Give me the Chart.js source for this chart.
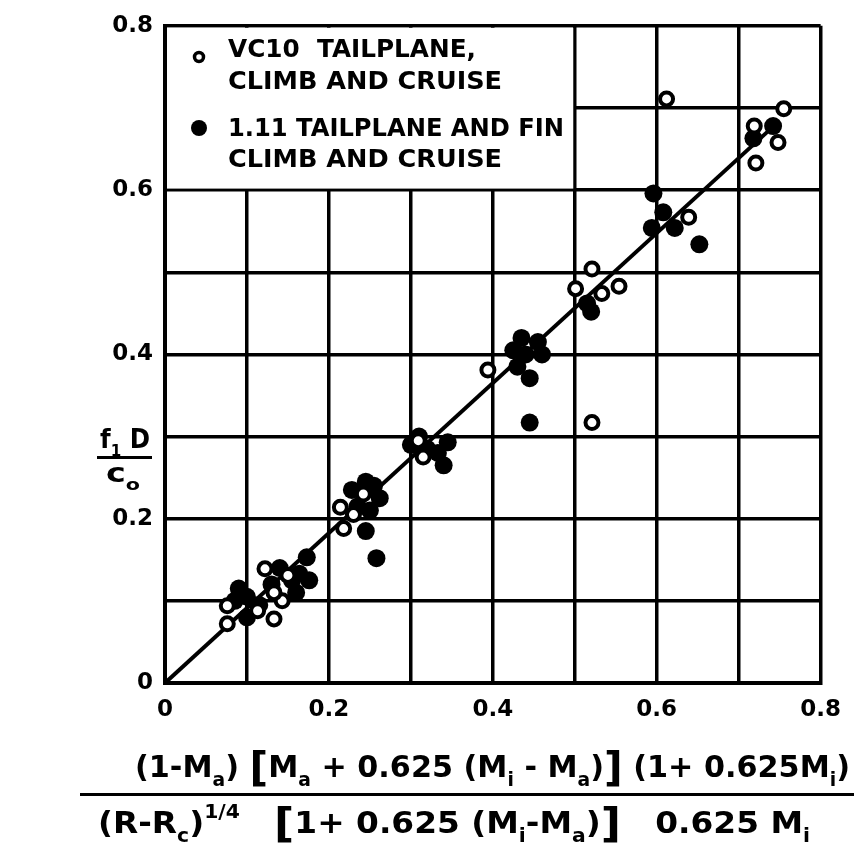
<!DOCTYPE html>
<html>
<head>
<meta charset="utf-8">
<script src="https://cdn.jsdelivr.net/npm/chart.js@4.4.0/dist/chart.umd.min.js"></script>
<style>
  html, body { margin: 0; padding: 0; background: #fff; }
  #wrap { width: 854px; height: 857px; }
</style>
</head>
<body>
<div id="wrap"><canvas id="chart" width="854" height="857"></canvas></div>
<script>
// VC10 tailplane, climb and cruise (open circles)
var vc10X = [0.076, 0.076, 0.122, 0.150, 0.143, 0.133, 0.113, 0.133, 0.214, 0.230, 0.218, 0.242, 0.309, 0.315,
             0.394, 0.521, 0.521, 0.501, 0.533, 0.554, 0.639, 0.612, 0.755, 0.719, 0.748, 0.721];
var vc10Y = [0.072, 0.094, 0.139, 0.131, 0.100, 0.078, 0.088, 0.110, 0.214, 0.205, 0.188, 0.230, 0.295, 0.275,
             0.381, 0.317, 0.504, 0.480, 0.474, 0.483, 0.567, 0.711, 0.699, 0.678, 0.658, 0.633];

// 1.11 tailplane and fin, climb and cruise (filled circles)
var finX = [0.090, 0.100, 0.100, 0.115, 0.085, 0.130, 0.140, 0.155, 0.160, 0.173, 0.176, 0.164,
            0.228, 0.245, 0.255, 0.262, 0.250, 0.245, 0.235, 0.258,
            0.300, 0.310, 0.320, 0.345, 0.340, 0.333,
            0.435, 0.455, 0.425, 0.440, 0.460, 0.430, 0.445, 0.445,
            0.515, 0.520, 0.596, 0.608, 0.594, 0.622, 0.652, 0.742, 0.718];
var finY = [0.115, 0.105, 0.080, 0.095, 0.100, 0.120, 0.140, 0.125, 0.110, 0.153, 0.125, 0.133,
            0.235, 0.245, 0.240, 0.225, 0.210, 0.185, 0.215, 0.152,
            0.290, 0.300, 0.285, 0.293, 0.265, 0.280,
            0.420, 0.415, 0.405, 0.400, 0.400, 0.385, 0.371, 0.317,
            0.462, 0.452, 0.596, 0.573, 0.554, 0.554, 0.534, 0.678, 0.663];

// faired line through the data
var fitX = [0, 0.745];
var fitY = [0, 0.68];

var legendLines = [
  ["VC10  TAILPLANE,", "CLIMB AND CRUISE"],
  ["1.11 TAILPLANE AND FIN", "CLIMB AND CRUISE"]
];

function pts(xs, ys) {
  return xs.map(function (x, i) { return { x: x, y: ys[i] }; });
}

var FONT = '"DejaVu Sans", sans-serif';

// draws text with subscripts/superscripts, squeezed to a target width
function drawRich(ctx, segs, x, y, targetW, size) {
  function fontFor(s) {
    var sz = s.s ? size * 0.62 : (s.big ? size * 1.35 : size);
    return 'bold ' + sz + 'px ' + FONT;
  }
  var total = 0;
  segs.forEach(function (s) { ctx.font = fontFor(s); total += ctx.measureText(s.t).width; });
  var k = targetW / total;
  ctx.save();
  ctx.translate(x, y);
  ctx.scale(k, 1);
  ctx.textBaseline = 'alphabetic';
  ctx.textAlign = 'left';
  ctx.fillStyle = '#000';
  var cx = 0;
  segs.forEach(function (s) {
    ctx.font = fontFor(s);
    var dy = s.s === 'sub' ? size * 0.3 : (s.s === 'sup' ? -size * 0.5 : (s.big ? size * 0.12 : 0));
    ctx.fillText(s.t, cx, dy);
    cx += ctx.measureText(s.t).width;
  });
  ctx.restore();
}

var decorations = {
  id: 'decorations',
  beforeDatasetsDraw: function (chart) {
    var ctx = chart.ctx;
    var xs = chart.scales.x, ys = chart.scales.y;
    var area = chart.chartArea;
    // legend panel hides the grid in the top-left corner
    var x0 = area.left + 2, y0 = area.top + 2;
    var x1 = xs.getPixelForValue(0.5) - 1.5, y1 = ys.getPixelForValue(0.6) - 1.5;
    ctx.save();
    ctx.fillStyle = '#fff';
    ctx.fillRect(x0, y0, x1 - x0, y1 - y0);
    drawRich(ctx, [{ t: legendLines[0][0] }], 228, 57, 248, 24);
    drawRich(ctx, [{ t: legendLines[0][1] }], 228, 89, 274, 24);
    drawRich(ctx, [{ t: legendLines[1][0] }], 228, 136, 336, 24);
    drawRich(ctx, [{ t: legendLines[1][1] }], 228, 167, 274, 24);
    ctx.lineWidth = 3.5;
    ctx.strokeStyle = '#000';
    ctx.fillStyle = '#000';
    ctx.beginPath();
    ctx.arc(199, 57, 4.5, 0, Math.PI * 2);
    ctx.stroke();
    ctx.beginPath();
    ctx.arc(199, 128, 8, 0, Math.PI * 2);
    ctx.fill();
    ctx.restore();
  },
  afterDraw: function (chart) {
    var ctx = chart.ctx;
    ctx.save();
    ctx.fillStyle = '#000';
    // y axis title f1 D / c0
    drawRich(ctx, [{ t: 'f' }, { t: '1', s: 'sub' }, { t: ' D' }], 100, 448, 50, 26);
    ctx.fillRect(97, 456, 55, 3);
    drawRich(ctx, [{ t: 'c' }, { t: 'o', s: 'sub' }], 106, 482, 34, 26);

    // x axis title (fraction)
    drawRich(ctx, [
      { t: '(1-M' }, { t: 'a', s: 'sub' }, { t: ') ' }, { t: '[', big: true }, { t: 'M' }, { t: 'a', s: 'sub' },
      { t: ' + 0.625 (M' }, { t: 'i', s: 'sub' }, { t: ' - M' }, { t: 'a', s: 'sub' }, { t: ')' },
      { t: ']', big: true }, { t: ' (1+ 0.625M' }, { t: 'i', s: 'sub' }, { t: ')' }
    ], 135, 777, 715, 30);
    ctx.fillRect(80, 793, 774, 3);
    drawRich(ctx, [
      { t: '(R-R' }, { t: 'c', s: 'sub' }, { t: ')' }, { t: '1/4', s: 'sup' }, { t: '   ' },
      { t: '[', big: true }, { t: '1+ 0.625 (M' }, { t: 'i', s: 'sub' }, { t: '-M' }, { t: 'a', s: 'sub' },
      { t: ')' }, { t: ']', big: true }, { t: '   0.625 M' }, { t: 'i', s: 'sub' }
    ], 98, 833, 712, 30);
    ctx.restore();
  }
};

function tickCb(v) {
  var n = Math.round(v * 10);
  if (n % 2 !== 0) return '';
  return n === 0 ? '0' : (n / 10).toFixed(1);
}

var config = {
  type: 'scatter',
  data: {
    datasets: [
      {
        type: 'line',
        label: 'fit',
        data: pts(fitX, fitY),
        borderColor: '#000',
        borderWidth: 4,
        pointRadius: 0,
        fill: false,
        order: 3
      },
      {
        label: 'VC10 TAILPLANE, CLIMB AND CRUISE',
        data: pts(vc10X, vc10Y),
        pointStyle: 'circle',
        pointRadius: 6.5,
        pointBorderWidth: 4,
        backgroundColor: '#fff',
        borderColor: '#000',
        order: 1
      },
      {
        label: '1.11 TAILPLANE AND FIN CLIMB AND CRUISE',
        data: pts(finX, finY),
        pointStyle: 'circle',
        pointRadius: 9,
        pointBorderWidth: 0,
        backgroundColor: '#000',
        borderColor: '#000',
        order: 2
      }
    ]
  },
  options: {
    responsive: false,
    animation: false,
    layout: { padding: { left: 0, right: 26, top: 14, bottom: 0 } },
    plugins: {
      legend: { display: false },
      tooltip: { enabled: false }
    },
    scales: {
      x: {
        type: 'linear',
        min: 0,
        max: 0.8,
        afterFit: function (s) { s.height = 174; },
        grid: { color: '#000', lineWidth: 3.5, drawTicks: false },
        border: { color: '#000', width: 4 },
        ticks: {
          stepSize: 0.1,
          autoSkip: false,
          maxRotation: 0,
          padding: 13,
          color: '#000',
          font: { family: FONT, size: 23, weight: 'bold' },
          callback: tickCb
        }
      },
      y: {
        type: 'linear',
        min: 0,
        max: 0.8,
        afterFit: function (s) { s.width = 165; },
        grid: { color: '#000', lineWidth: 3.5, drawTicks: false },
        border: { color: '#000', width: 4 },
        ticks: {
          stepSize: 0.1,
          autoSkip: false,
          padding: 12,
          color: '#000',
          font: { family: FONT, size: 23, weight: 'bold' },
          callback: tickCb
        }
      }
    }
  },
  plugins: [decorations]
};

var chart = new Chart(document.getElementById('chart'), config);
</script>
</body>
</html>
